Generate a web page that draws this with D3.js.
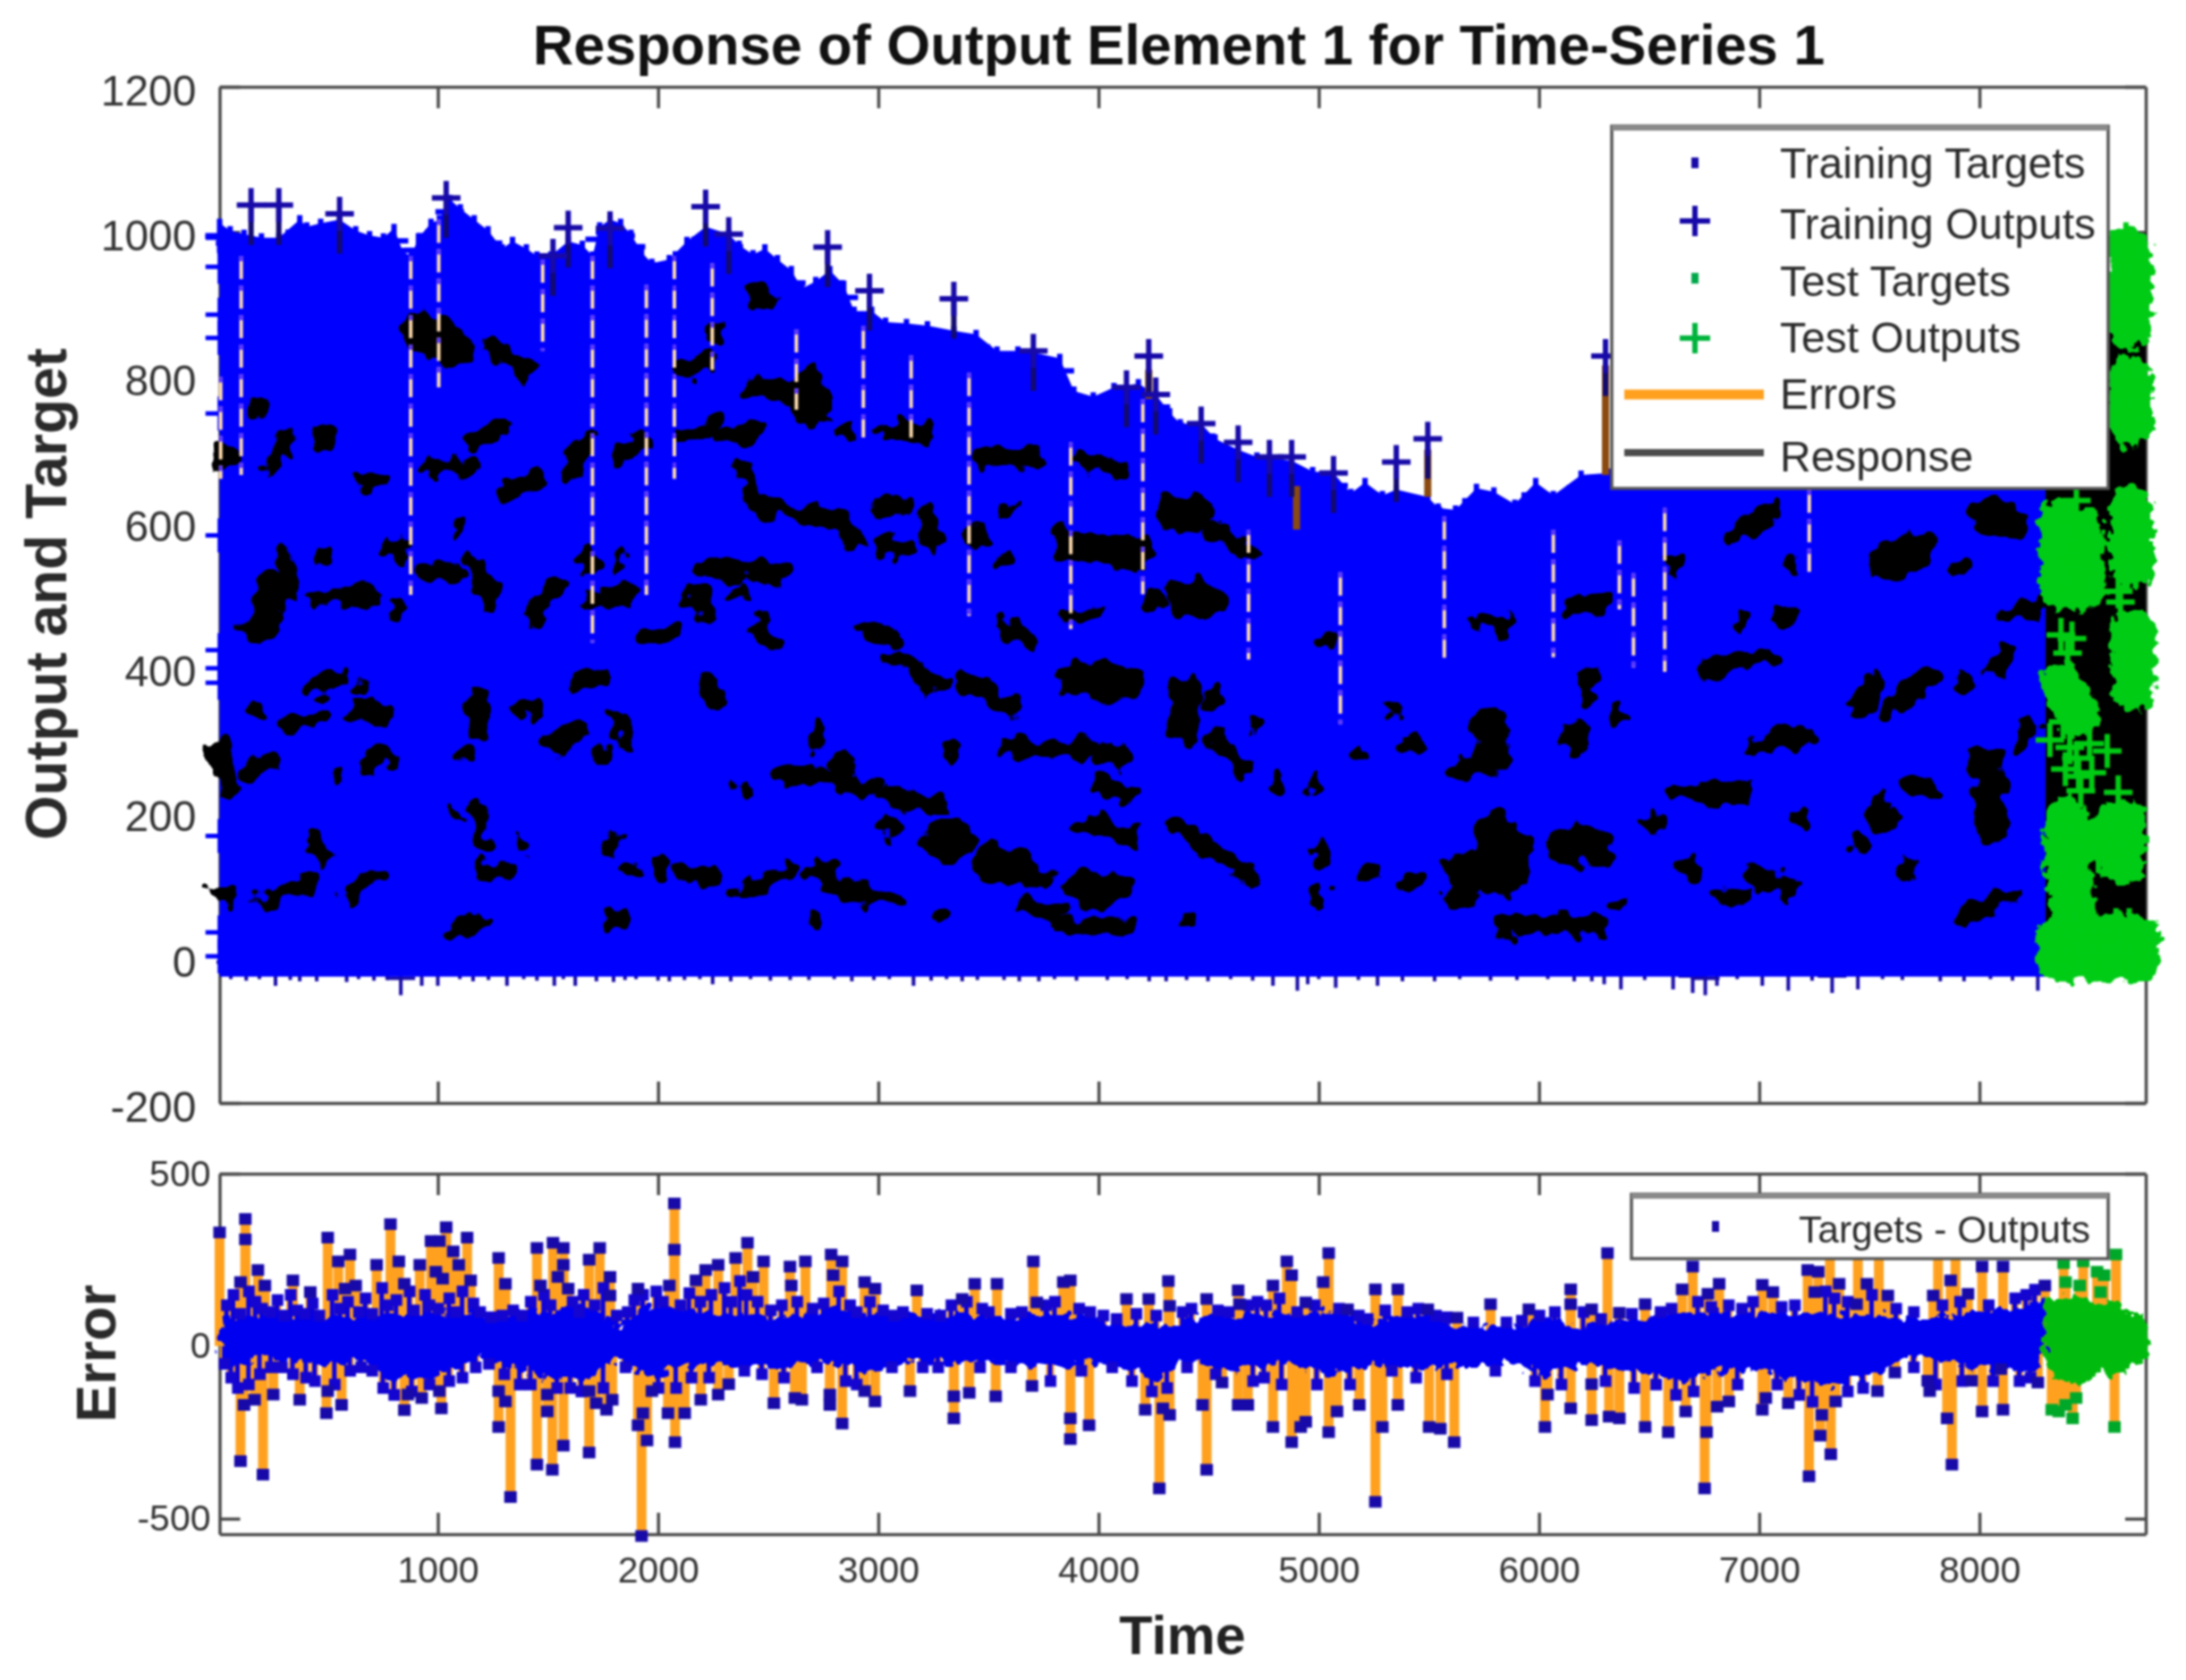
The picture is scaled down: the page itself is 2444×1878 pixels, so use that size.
<!DOCTYPE html>
<html>
<head>
<meta charset="utf-8">
<script src="https://d3js.org/d3.v7.min.js"></script>
<style>
	body { margin: 0; background: #fff; }
	svg { display: block; filter: blur(1.2px); font-family: "Liberation Sans", sans-serif; }
</style>
</head>
<body>
<svg id="plot" width="2444" height="1878">
	<defs>
		<!-- frays the edges of the piled up markers -->
		<filter id="fray" filterUnits="userSpaceOnUse" x="0" y="0" width="2444" height="1878">
			<feTurbulence type="fractalNoise" baseFrequency="0.045" numOctaves="2" seed="4"/>
			<feDisplacementMap in="SourceGraphic" scale="34" xChannelSelector="R" yChannelSelector="G"/>
		</filter>
		<filter id="frayFine" filterUnits="userSpaceOnUse" x="0" y="0" width="2444" height="1878">
			<feTurbulence type="fractalNoise" baseFrequency="0.09" numOctaves="2" seed="9"/>
			<feDisplacementMap in="SourceGraphic" scale="22" xChannelSelector="R" yChannelSelector="G"/>
		</filter>
	</defs>
</svg>
<script>
// ----- values -----
const timeTicks = [1000, 2000, 3000, 4000, 5000, 6000, 7000, 8000];
const outputTicks = [-200, 0, 200, 400, 600, 800, 1000, 1200];
const errorTicks = [-500, 0, 500];

// top edge of the training outputs
const envelopeT = [9,57,120,199,278,373,405,468,554,627,690,753,801,842,880,912,969,1007,1054,1102,1165,1228,1292,1339,1402,1450,1513,1592,1656,1703,1735,1782,1830,1877,1925,1972,2051,2131,2216,2321,2368,2431,2485,2542,2605,2653,2716,2780,2843,2890,2970,3033,3128,3223,3343,3444,3539,3634,3704,3824,3888,3976,4070,4181,4260,4323,4371,4466,4529,4634,4719,4877,4972,5067,5146,5210,5289,5352,5495,5542,5621,5716,5795,5890,5985,6065,6191,6318,6500,7000,7600,8100,8300];
const envelopeV = [1012,1002,997,992,992,1017,1007,1012,1017,1002,995,992,1005,972,967,992,1012,1017,1045,1032,1017,1002,977,987,977,967,967,987,982,967,1007,1017,1012,997,972,957,962,987,1007,997,982,969,977,962,947,922,932,947,927,891,891,876,874,871,864,859,836,836,834,826,781,773,786,791,776,751,736,736,715,700,690,685,670,668,640,655,637,645,635,620,617,647,642,625,655,637,665,668,690,720,730,760,780];
const floorV = -26;

// isolated outputs standing above the mass
const peakT = [152,278,554,1038,1523,1592,1782,2216,2321,2770,2960,3343,3704,4127,4228,4260,4466,4634,4776,4877,5067,5352,5495,6302];
const peakV = [1037,1037,1025,1047,967,1006,1005,1035,997,979,919,908,836,786,829,776,736,710,690,690,668,683,715,829];

// outputs that poke out at the left edge and below the mass
const edgeT = [10,10,10,10,10,10,10,10,10,10,10,10];
const edgeV = [992,952,886,854,750,582,424,399,379,168,35,2];
const lowT = [263,832,373,586,927,1000,1314,1529,1624,1798,2051,2248,3160,2685,3381,3571,3729,4307,4497,4792,4903,4950,5077,5267,5526,6160,6296,6372,6609,6698,6755,6808,7014,7132,7331,7448,7822,8265,60,130,190,330,450,640,710,770,1100,1160,1230,1390,1450,1570,1720,1850,1900,2000,2120,2190,2330,2420,2510,2600,2800,2880,2980,3050,3240,3310,3450,3640,3800,3900,4040,4130,4230,4400,4600,4700,5000,5180,5380,5640,5780,5900,6040,6240,6480,6900,7240,7560,7650,7930,8050,8150];
const lowV = [-15,-28,-9,-10,-15,-15,-15,-15,-15,-10,-9,-13,-15,-7,-9,-7,-9,-9,-9,-15,-22,-13,-18,-15,-9,-9,-13,-20,-20,-25,-28,-15,-15,-22,-25,-20,-9,-22,-6,-8,-6,-7,-9,-6,-8,-7,-6,-9,-7,-6,-8,-6,-9,-7,-6,-8,-7,-6,-9,-6,-8,-7,-6,-9,-7,-6,-8,-6,-7,-9,-6,-8,-7,-6,-9,-7,-6,-8,-6,-7,-9,-6,-8,-7,-6,-9,-7,-6,-8,-6,-7,-9,-6,-8];

// pieces of the response line left uncovered by the outputs: t0, v0, t1, v1
const responseGaps = [
	[923,865,1131,835],[1240,844,1385,809],[7,692,61,692],[225,680,315,716],[487,725,469,710],[986,674,1149,680],[1167,713,1276,728],[1312,641,1457,656],[1584,662,1675,710],[1820,692,1911,710],[2110,716,2273,740],[2273,716,2436,722],[2382,680,2436,626],[2436,626,2835,600],[641,662,750,656],[2436,913,2491,913],[2255,865,2255,860],[2128,812,2237,818],[2436,788,2690,770],[170,758,190,758],
	[315,561,315,513],[188,477,315,495],[442,501,696,501],[460,549,470,549],[769,567,823,561],[805,477,810,477],[932,537,1077,525],[1167,537,1240,495],[1421,471,1548,513],[1675,561,1675,540],[1675,489,1856,501],[1820,543,1820,540],[1095,591,1095,590],[2201,537,2545,531],[2164,495,2219,471],[2364,507,2364,505],[2455,459,2491,435],[1929,435,2056,447],
	[2545,253,2850,250],[2400,238,2400,236],[2237,375,2273,352],[1820,328,1856,292],[1748,280,1748,278],[1385,340,1439,340],[1167,358,1185,316],[1113,286,1113,284],[1512,292,1639,316],[1639,381,1748,387],[442,376,533,381],[660,376,660,374],[188,340,188,338],[315,322,478,328],[623,340,750,340],[7,286,43,232],[134,250,243,274],[533,256,533,254],[696,268,768,280],[2745,316,2708,292],[2835,274,2835,272],
	[1185,202,1185,160],[1077,196,1077,194],[1203,125,1312,119],[1385,160,1385,158],[442,160,497,142],[225,83,442,107],[587,89,732,113],[7,89,43,89],[1874,119,1874,117],[1784,160,1784,158],[2001,125,2001,123],[2092,125,2237,113],[2382,89,2600,119],[2708,125,2835,95],[1820,53,1820,51],[1185,47,1095,41],[2708,56,2708,54],
	[3031,725,3213,725],[2850,725,2870,725],[3466,695,3702,686],[3920,683,4101,674],[2995,620,3122,626],[2850,590,2886,579],[3013,567,3122,567],[3231,603,3249,567],[3575,626,3575,624],[3575,555,3575,553],[4518,585,4681,561],[3448,579,3448,577],[4246,495,4246,493],[2959,453,3068,441],[3575,459,3684,435],[3847,471,3974,477],[3068,411,3285,376],[3394,381,3630,346],[4518,352,4518,350],[5044,441,5044,439],
	[3575,292,3938,286],[4010,286,4119,274],[3321,289,3321,287],[2850,238,2959,238],[3031,226,3285,208],[3049,178,3049,176],[3938,184,4155,166],[4010,238,4155,226],[4373,178,4663,119],[4989,238,4989,236],[4536,304,4645,262],[4699,322,4699,320],[5406,298,5406,296],[5171,280,5171,278],[5334,346,5334,344],[5615,256,5720,262],[5424,107,5424,105],[5243,119,5243,117],[5007,143,5007,141],[4989,83,4989,81],[4699,113,4699,111],[3756,113,3756,111],[2850,89,3086,77],[3666,71,3811,59],[3847,44,4119,44],[4409,53,4409,51],[3285,56,3285,54],[4826,238,4826,236],
	[6853,573,7035,614],[7905,543,7905,541],[6600,543,6600,541],[7143,549,7143,547],[6146,483,6309,495],[5729,465,5856,459],[6926,471,6926,469],[7107,471,7107,469],[6763,399,7053,417],[8122,471,8304,489],[6219,393,6219,358],[6183,316,6146,292],[6364,334,6364,332],[7506,381,7452,340],[7778,387,7578,340],[7941,381,7941,379],[8141,423,8086,399],[6962,292,7198,304],[6600,232,6926,226],[7687,238,7778,232],[7506,196,7614,190],[6527,184,6527,182],[6672,125,6672,123],[7180,190,7180,188],[6962,113,7143,95],[7687,125,7687,123],[7452,154,7452,152],[6382,77,6382,75],[6817,83,6944,83],[5820,44,6273,47],[7941,59,8159,83],[8231,322,8177,298],[4038,97,4038,87],[7553,208,7553,193]
];
const responseBlobs = [
	[912,866,1070,841],[2700,791,2700,751],[247,510,199,460],[4373,495,4500,495],[3883,387,4119,376],[4391,369,4391,316],[3285,160,3358,160],[3521,131,3648,119],[3938,95,4065,95],[3865,567,4174,555],[4355,614,4445,614],[7579,543,7742,567],[8032,608,8141,603],[5784,322,5784,274],[8032,268,8050,178],[5784,174,5784,114],[6110,154,6273,154],[5660,125,5660,95],[5875,163,5875,112]
];

// long errors showing through the outputs
const slitT = [14,107,877,1004,1476,1702,1947,2074,2246,2628,2932,3149,3412,3874,4201,4681,5098,5570,6065,6365,6429,6571,7227];
const slitTop = [800,967,967,1017,962,967,927,967,957,866,871,830,806,710,770,590,531,608,590,575,530,620,645];
const slitBottom = [660,665,500,786,836,434,500,660,810,755,716,710,471,453,501,411,322,411,414,480,400,394,530];
const stemT = [5495,6302,4228,4899];
const stemTop = [700,816,810,650];
const stemBottom = [635,665,770,590];

// test outputs
const testOutT = [8680,8660,8700,8650,8700,8670,8720,8650,8690,8700,8665,8680,8660,8710,8650,8700,8680,8690,8660,8720,8640,8700,8650,8720,8440,8430,8460,8400,8440,8500,8480,8430,8470,8630,8640,8370,8400,8420,8700,8680,8720,8670,8710,8680,8400,8370,8430,8380,8420,8450,8320,8410,8440,8500,8580,8450,8390,8510,8460,8630,8400,8650,8440,8500,8560,8620,8680,8360,8420,8480,8540,8600,8700,8420,8380,8440,8400,8460,8370,8420,8480,8540,8600,8660,8720,8360,8420,8480,8540,8600,8660,8720,8750,8680,8620,8500];
const testOutV = [985,960,960,930,935,905,905,880,865,900,990,795,775,775,750,750,735,630,600,600,570,570,545,545,630,600,570,550,545,560,530,510,500,505,490,445,420,440,450,420,420,390,385,365,375,350,350,325,325,345,300,290,275,295,285,250,260,255,230,228,190,195,165,160,170,165,165,150,145,140,140,140,150,115,90,90,65,70,20,25,30,25,30,30,20,-2,0,0,0,0,0,0,10,45,45,45];
// where the test outputs pile up: t0, v0, t1, v1
const testPiles = [
	[8680,975,8680,870],[8690,800,8690,735],[8690,620,8690,540],[8370,600,8380,510],[8460,590,8470,510],[8700,450,8700,370],[8380,375,8450,335],[8400,190,8400,120],[8470,165,8650,165],[8650,190,8650,130],[8420,100,8420,40],[8360,30,8720,30],[8360,-2,8720,-2]
];
const responseT = [8290,8755];
const responseTop = [780,1000];

// lower panel: Targets - Outputs of the training steps
const errT = [9,126,126,183,104,215,342,421,500,548,601,579,627,722,785,823,848,918,969,1007,1038,1070,991,1095,1133,1149,1022,1276,1307,1450,1523,1570,1570,1466,1545,1592,1687,1735,1782,1782,1909,2051,2074,2074,2172,2216,2273,2352,2406,2431,2479,2599,2669,2605,2786,2836,2795,2938,2985,3175,3438,3539,3381,3704,3720,3840,3872,4127,4228,4317,4323,4491,4634,4640,4792,4855,4877,4941,5020,5045,5257,5359,5131,5495,5628,5780,5954,6144,6144,6239,6311,6365,6482,6650,6698,6767,6818,7014,7062,7220,7268,7252,7363,7442,7489,7584,7790,7869,8012,8107,7948,8297,7321,7448,7543,7812,7891,104,206,253,120,168,373,494,563,500,848,927,1016,864,1007,1276,1330,1276,1307,1450,1520,1570,1497,1497,1687,1719,1766,1792,1687,1909,1931,1950,1925,2045,2077,2121,1972,2194,2273,2321,2526,2621,2653,2780,2780,2836,2938,2985,3144,3343,3343,3413,3533,3698,3872,3872,3957,4212,4276,4323,4292,4472,4491,4561,4634,4678,4792,4877,4918,4941,5045,5083,5184,5257,5289,5359,5501,5552,5615,6027,6039,6144,6239,6239,6318,6365,6482,6587,6666,6752,6761,6862,6809,7014,7030,7132,7226,7277,7325,7284,7347,7537,7616,7765,7774,7853,7875,7964,8012,8107,8097,8265];
const errV = [331,370,311,222,187,177,192,158,316,247,267,168,177,237,355,247,182,237,306,306,346,276,217,237,316,192,197,257,182,286,301,286,237,177,202,168,252,286,202,148,168,177,415,281,192,222,237,257,301,202,247,232,247,177,267,247,207,187,168,163,182,182,138,247,128,187,192,138,138,190,118,138,163,123,177,247,207,128,187,271,166,166,108,108,84,123,108,166,123,108,271,98,123,166,232,153,182,179,158,222,217,158,182,123,182,148,148,192,232,232,153,177,290,290,290,290,290,-332,-371,-139,-169,-154,-154,-193,-169,-129,-184,-149,-179,-139,-129,-233,-436,-129,-159,-342,-357,-287,-188,-139,-307,-164,-183,-154,-129,-228,-193,-272,-549,-193,-277,-193,-129,-154,-139,-109,-164,-149,-154,-169,-139,-223,-129,-159,-129,-208,-144,-134,-144,-114,-268,-208,-228,-183,-411,-198,-179,-169,-357,-104,-169,-169,-233,-277,-233,-218,-248,-188,-169,-450,-233,-169,-233,-238,-277,-233,-139,-179,-213,-109,-203,-208,-233,-248,-188,-411,-248,-159,-174,-183,-149,-164,-376,-258,-312,-198,-159,-129,-75,-99,-129,-208,-342,-99,-188,-183,-65,-104];
// the smaller errors crowding around the core
const smallT = [40,70,100,140,170,200,240,270,300,330,360,395,430,460,520,555,590,640,670,700,745,770,810,870,890,940,960,1000,1050,1080,1110,1160,1190,1240,1290,1340,1380,1420,1480,1510,1610,1640,1660,1710,1750,1810,1860,1890,1930,1990,2020,2100,2140,2190,2240,2300,2330,2370,2400,2450,2510,2560,2630,2700,2750,2820,2870,2900,2960,3020,3070,3110,3220,3280,3330,3400,3470,3500,3600,3650,3760,3800,3910,3960,4020,4080,4170,4260,4380,4420,4540,4590,4680,4720,4760,4820,4900,4980,5090,5180,5220,5300,5400,5450,5530,5580,5700,5850,5920,6000,6070,6200,6280,6420,6550,6600,6720,6780,6860,6920,6970,7100,7160,7300,7340,7400,7510,7620,7700,7830,7910,8040,8160,8210,8250,30,60,90,140,190,240,290,340,400,440,530,600,650,700,750,800,880,960,1050,1110,1170,1230,1300,1370,1420,1540,1600,1650,1750,1850,2000,2080,2150,2230,2390,2470,2570,2720,2850,2900,3060,3200,3270,3460,3600,3780,3920,4060,4150,4240,4310,4400,4530,4700,4750,4830,4990,5140,5330,5440,5580,5800,5980,6100,6300,6430,6530,6620,6700,6900,7080,7180,7240,7400,7470,7700,7800,7920,8060,8180,8230];
const smallV = [120,150,95,160,130,110,100,135,90,150,105,95,125,90,150,110,130,100,140,95,170,120,135,160,105,150,120,110,140,100,160,125,100,85,90,105,90,130,150,120,130,100,150,120,170,90,100,135,150,160,130,120,155,130,150,170,130,190,150,130,105,120,130,110,125,160,120,100,130,105,90,100,95,90,120,130,110,100,95,100,120,130,110,100,90,80,95,90,100,110,105,100,120,130,120,140,100,120,110,90,80,105,100,110,90,85,70,70,75,90,100,100,80,95,100,110,130,115,120,110,130,115,120,160,140,130,150,110,100,120,130,120,140,150,165,-50,-90,-120,-110,-80,-60,-60,-80,-90,-100,-110,-70,-60,-70,-120,-140,-130,-110,-100,-90,-60,-50,-80,-110,-110,-120,-120,-130,-120,-60,-120,-120,-90,-90,-70,-80,-90,-60,-100,-110,-60,-60,-60,-60,-60,-100,-70,-60,-100,-130,-120,-60,-80,-100,-90,-110,-110,-110,-70,-90,-80,-70,-100,-110,-100,-120,-110,-140,-130,-110,-110,-140,-160,-130,-120,-60,-110,-100,-100,-100,-90];
const massT = [9,88,215,373,500,658,785,912,1070,1197,1292,1323,1513,1703,1814,1893,1956,2115,2273,2495,2685,2811,2938,3128,3444,3761,3976,4133,4260,4387,4450,4608,4861,5051,5241,5495,5653,5875,6033,6191,6508,6666,6825,7014,7299,7521,7679,7869,8091,8249,8297];
const massTop = [75,85,95,90,85,90,85,95,95,95,80,105,100,115,60,100,110,110,90,85,95,110,95,90,90,90,90,60,60,60,90,90,95,100,75,90,60,55,85,60,85,95,100,95,95,90,85,85,110,125,140];
const massBottom = [-30,-60,-30,-45,-60,-40,-100,-90,-70,-30,-55,-55,-95,-95,-30,-70,-95,-60,-55,-60,-50,-50,-80,-45,-45,-60,-45,-60,-100,-40,-50,-70,-50,-80,-50,-70,-50,-50,-80,-50,-80,-100,-70,-70,-115,-90,-30,-45,-70,-70,-30];

// lower panel: test steps
const testErrT = [8391,8455,8534,8620,8566,8550,8382,8471,8328,8423,8613,8439,8360,8391];
const testErrV = [187,177,217,267,207,158,242,247,-183,-208,-233,-149,-188,-169];
const testMassT = [8297,8344,8407,8471,8534,8629,8677,8740,8781];
const testMassTop = [138,143,138,148,118,138,98,98,4];
const testMassBottom = [-30,-90,-109,-109,-80,-80,-70,-50,0];

const legendLabels = ["Training Targets", "Training Outputs", "Test Targets", "Test Outputs", "Errors", "Response"];

// ----- layout -----
const WIDTH_L = 245.5, WIDTH_R = 2399;
const BLUE = "#0000ff", NAVY = "#170aa8", GREEN = "#00cc14", ORANGE = "#ffa11f";
const PLUS = "M-16,0H16M0,-19V19";

const svg = d3.select("#plot");
const scaleX = d3.scaleLinear().domain([9, 8755]).range([WIDTH_L, WIDTH_R]);
const scaleY = d3.scaleLinear().domain([-200, 1200]).range([1233, 97]);
const scaleE = d3.scaleLinear().domain([-545, 500]).range([1715, 1312]);

function zip(a, b) { return a.map((d, i) => [d, b[i]]); }

function drawFrame(y, ticks, labelSize, showX) {
	const [bottom, top] = y.range();
	const g = svg.append("g");
	const parts = [
		[d3.axisBottom(scaleX).tickValues(timeTicks).tickSize(-24).tickSizeOuter(0).tickPadding(25).tickFormat(showX ? d3.format("d") : ""), bottom, 0],
		[d3.axisTop(scaleX).tickValues(timeTicks).tickSize(-24).tickSizeOuter(0).tickFormat(""), top, 0],
		[d3.axisLeft(y).tickValues(ticks).tickSize(-23).tickSizeOuter(0).tickPadding(showX ? 10 : 26).tickFormat(d => String(d)), 0, WIDTH_L],
		[d3.axisRight(y).tickValues(ticks).tickSize(-23).tickSizeOuter(0).tickFormat(""), 0, WIDTH_R]
	];
	parts.forEach(([axis, ty, tx], k) => {
		const a = g.append("g").attr("transform", `translate(${tx},${ty})`).call(axis);
		a.selectAll("path,line").attr("stroke", "#4a4a4a").attr("stroke-width", 3.5);
		a.selectAll("text").attr("fill", "#333").attr("font-size", labelSize);
		// the labels of the upper panel sit a little under their ticks
		if (k === 2 && !showX) a.selectAll("text").attr("transform", "translate(0,5)");
	});
}

function vline(g, x, y, t, top, bottom, color, width, dash) {
	g.selectAll(null).data(t).enter().append("line")
		.attr("x1", d => x(d)).attr("x2", d => x(d))
		.attr("y1", (d, i) => y(top[i])).attr("y2", (d, i) => y(bottom[i]))
		.attr("stroke", color).attr("stroke-width", width)
		.attr("stroke-dasharray", dash || null);
}

function plus(g, pts, color, width, shape, dy) {
	g.selectAll(null).data(pts).enter().append("path")
		.attr("d", shape || PLUS)
		.attr("transform", d => `translate(${scaleX(d[0])},${scaleY(d[1]) + (dy || 0)})`)
		.attr("fill", "none").attr("stroke", color).attr("stroke-width", width);
}

function streaks(g, segs, color, width) {
	g.selectAll(null).data(segs).enter().append("line")
		.attr("x1", d => scaleX(d[0])).attr("y1", d => scaleY(d[1]))
		.attr("x2", d => scaleX(d[2])).attr("y2", d => scaleY(d[3]))
		.attr("stroke", color).attr("stroke-width", width).attr("stroke-linecap", "round");
}

// ----- upper panel -----
drawFrame(scaleY, outputTicks, 48, false);
const up = svg.append("g");

plus(up, zip(lowT, lowV), NAVY, 4);
up.append("path")
	.attr("d", d3.area().x(d => scaleX(d[0])).y0(scaleY(floorV + 30)).y1(d => scaleY(d[1]))(zip(responseT, responseTop)))
	.attr("fill", "#000");
up.append("path")
	.attr("d", d3.area().x(d => scaleX(d[0])).y0(scaleY(floorV)).y1(d => scaleY(d[1]))(zip(envelopeT, envelopeV)))
	.attr("fill", BLUE);
plus(up, zip(envelopeT, envelopeV), BLUE, 6, PLUS, 14);
plus(up, zip(edgeT, edgeV), BLUE, 5);

const holes = up.append("g").attr("filter", "url(#fray)");
streaks(holes, responseGaps, "#000", 21);
streaks(holes, responseBlobs, "#000", 40);

vline(up, scaleX, scaleY, slitT, slitTop, slitBottom, "#ffdcae", 4, "26 7");
vline(up, scaleX, scaleY, slitT, slitTop, slitBottom, "#5a35ff", 4, "6 27");
vline(up, scaleX, scaleY, stemT, stemTop, stemBottom, "#8a4a10", 8);
vline(up, scaleX, scaleY, peakT, peakV, peakV.map(d => d - 55), "#120a70", 6);
plus(up, zip(peakT, peakV), NAVY, 6);

const piles = up.append("g").attr("filter", "url(#frayFine)");
streaks(piles, testPiles, GREEN, 50);
plus(up, zip(testOutT, testOutV), GREEN, 6);

// ----- lower panel -----
drawFrame(scaleE, errorTicks, 41, true);
const low = svg.append("g");

vline(low, scaleX, scaleE, errT, errV, errT.map(() => 0), ORANGE, 11);
vline(low, scaleX, scaleE, smallT, smallV, smallT.map(() => 0), ORANGE, 9);
vline(low, scaleX, scaleE, testErrT, testErrV, testErrT.map(() => 0), ORANGE, 11);
vline(low, scaleX, scaleE, smallT, smallV, smallT.map(() => 0), "#0a00e0", 5);

low.append("path")
	.attr("filter", "url(#frayFine)")
	.attr("d", d3.area().x(d => scaleX(d)).y0((d, i) => scaleE(massBottom[i])).y1((d, i) => scaleE(massTop[i]))(massT))
	.attr("fill", "#0000f0");
low.selectAll(null).data(zip(smallT, smallV)).enter().append("rect")
	.attr("x", d => scaleX(d[0]) - 6).attr("y", d => scaleE(d[1]) - 6)
	.attr("width", 13).attr("height", 13).attr("fill", "#1405d0");
low.selectAll(null).data(zip(errT, errV)).enter().append("rect")
	.attr("x", d => scaleX(d[0]) - 7).attr("y", d => scaleE(d[1]) - 6)
	.attr("width", 14).attr("height", 13).attr("fill", NAVY);
low.append("path")
	.attr("filter", "url(#frayFine)")
	.attr("d", d3.area().x(d => scaleX(d)).y0((d, i) => scaleE(testMassBottom[i])).y1((d, i) => scaleE(testMassTop[i]))(testMassT))
	.attr("fill", "#00bb10");
low.selectAll(null).data(zip(testErrT, testErrV)).enter().append("rect")
	.attr("x", d => scaleX(d[0]) - 7).attr("y", d => scaleE(d[1]) - 6)
	.attr("width", 14).attr("height", 13).attr("fill", "#00a82a");

// ----- legends -----
function legendBox(x0, y0, x1, y1) {
	const g = svg.append("g");
	g.append("rect").attr("x", x0).attr("y", y0).attr("width", x1 - x0).attr("height", y1 - y0)
		.attr("fill", "#fff").attr("stroke", "#555").attr("stroke-width", 3.5);
	g.append("line").attr("x1", x0).attr("x2", x1).attr("y1", y0 + 2).attr("y2", y0 + 2)
		.attr("stroke", "#8a8a8a").attr("stroke-width", 6);
	return g;
}

const lg = legendBox(1802, 141, 2357, 546);
const rowText = [199, 267, 331, 394, 457, 527];
lg.selectAll(null).data(legendLabels).enter().append("text")
	.attr("x", 1990).attr("y", (d, i) => rowText[i])
	.attr("font-size", 48).attr("fill", "#2a2a2a").text(d => d);
lg.append("rect").attr("x", 1891).attr("y", 176).attr("width", 8).attr("height", 12).attr("fill", NAVY);
lg.append("rect").attr("x", 1891).attr("y", 305).attr("width", 8).attr("height", 12).attr("fill", "#00a84a");
lg.append("path").attr("d", "M1878,247H1912M1895,230V264").attr("stroke", NAVY).attr("stroke-width", 6);
lg.append("path").attr("d", "M1878,378H1912M1895,361V395").attr("stroke", "#00b43c").attr("stroke-width", 6);
lg.append("line").attr("x1", 1816).attr("x2", 1972).attr("y1", 441).attr("y2", 441).attr("stroke", ORANGE).attr("stroke-width", 11);
lg.append("line").attr("x1", 1816).attr("x2", 1972).attr("y1", 506).attr("y2", 506).attr("stroke", "#4c4c4c").attr("stroke-width", 8);

const lg2 = legendBox(1824, 1335, 2357, 1407);
lg2.append("rect").attr("x", 1914).attr("y", 1365).attr("width", 8).attr("height", 12).attr("fill", NAVY);
lg2.append("text").attr("x", 2011).attr("y", 1389).attr("font-size", 42.5).attr("fill", "#2a2a2a").text("Targets - Outputs");

// ----- titles -----
svg.append("text").attr("x", 1318).attr("y", 72).attr("text-anchor", "middle")
	.attr("font-size", 63).attr("font-weight", "bold").attr("fill", "#111")
	.text("Response of Output Element 1 for Time-Series 1");
svg.append("text").attr("x", 1322).attr("y", 1849).attr("text-anchor", "middle")
	.attr("font-size", 61).attr("font-weight", "bold").attr("fill", "#222").text("Time");
svg.append("text").attr("transform", "translate(74,664) rotate(-90)").attr("text-anchor", "middle")
	.attr("font-size", 64).attr("font-weight", "bold").attr("fill", "#2a2a2a").text("Output and Target");
svg.append("text").attr("transform", "translate(129,1513) rotate(-90)").attr("text-anchor", "middle")
	.attr("font-size", 63).attr("font-weight", "bold").attr("fill", "#2a2a2a").text("Error");
</script>
</body>
</html>
